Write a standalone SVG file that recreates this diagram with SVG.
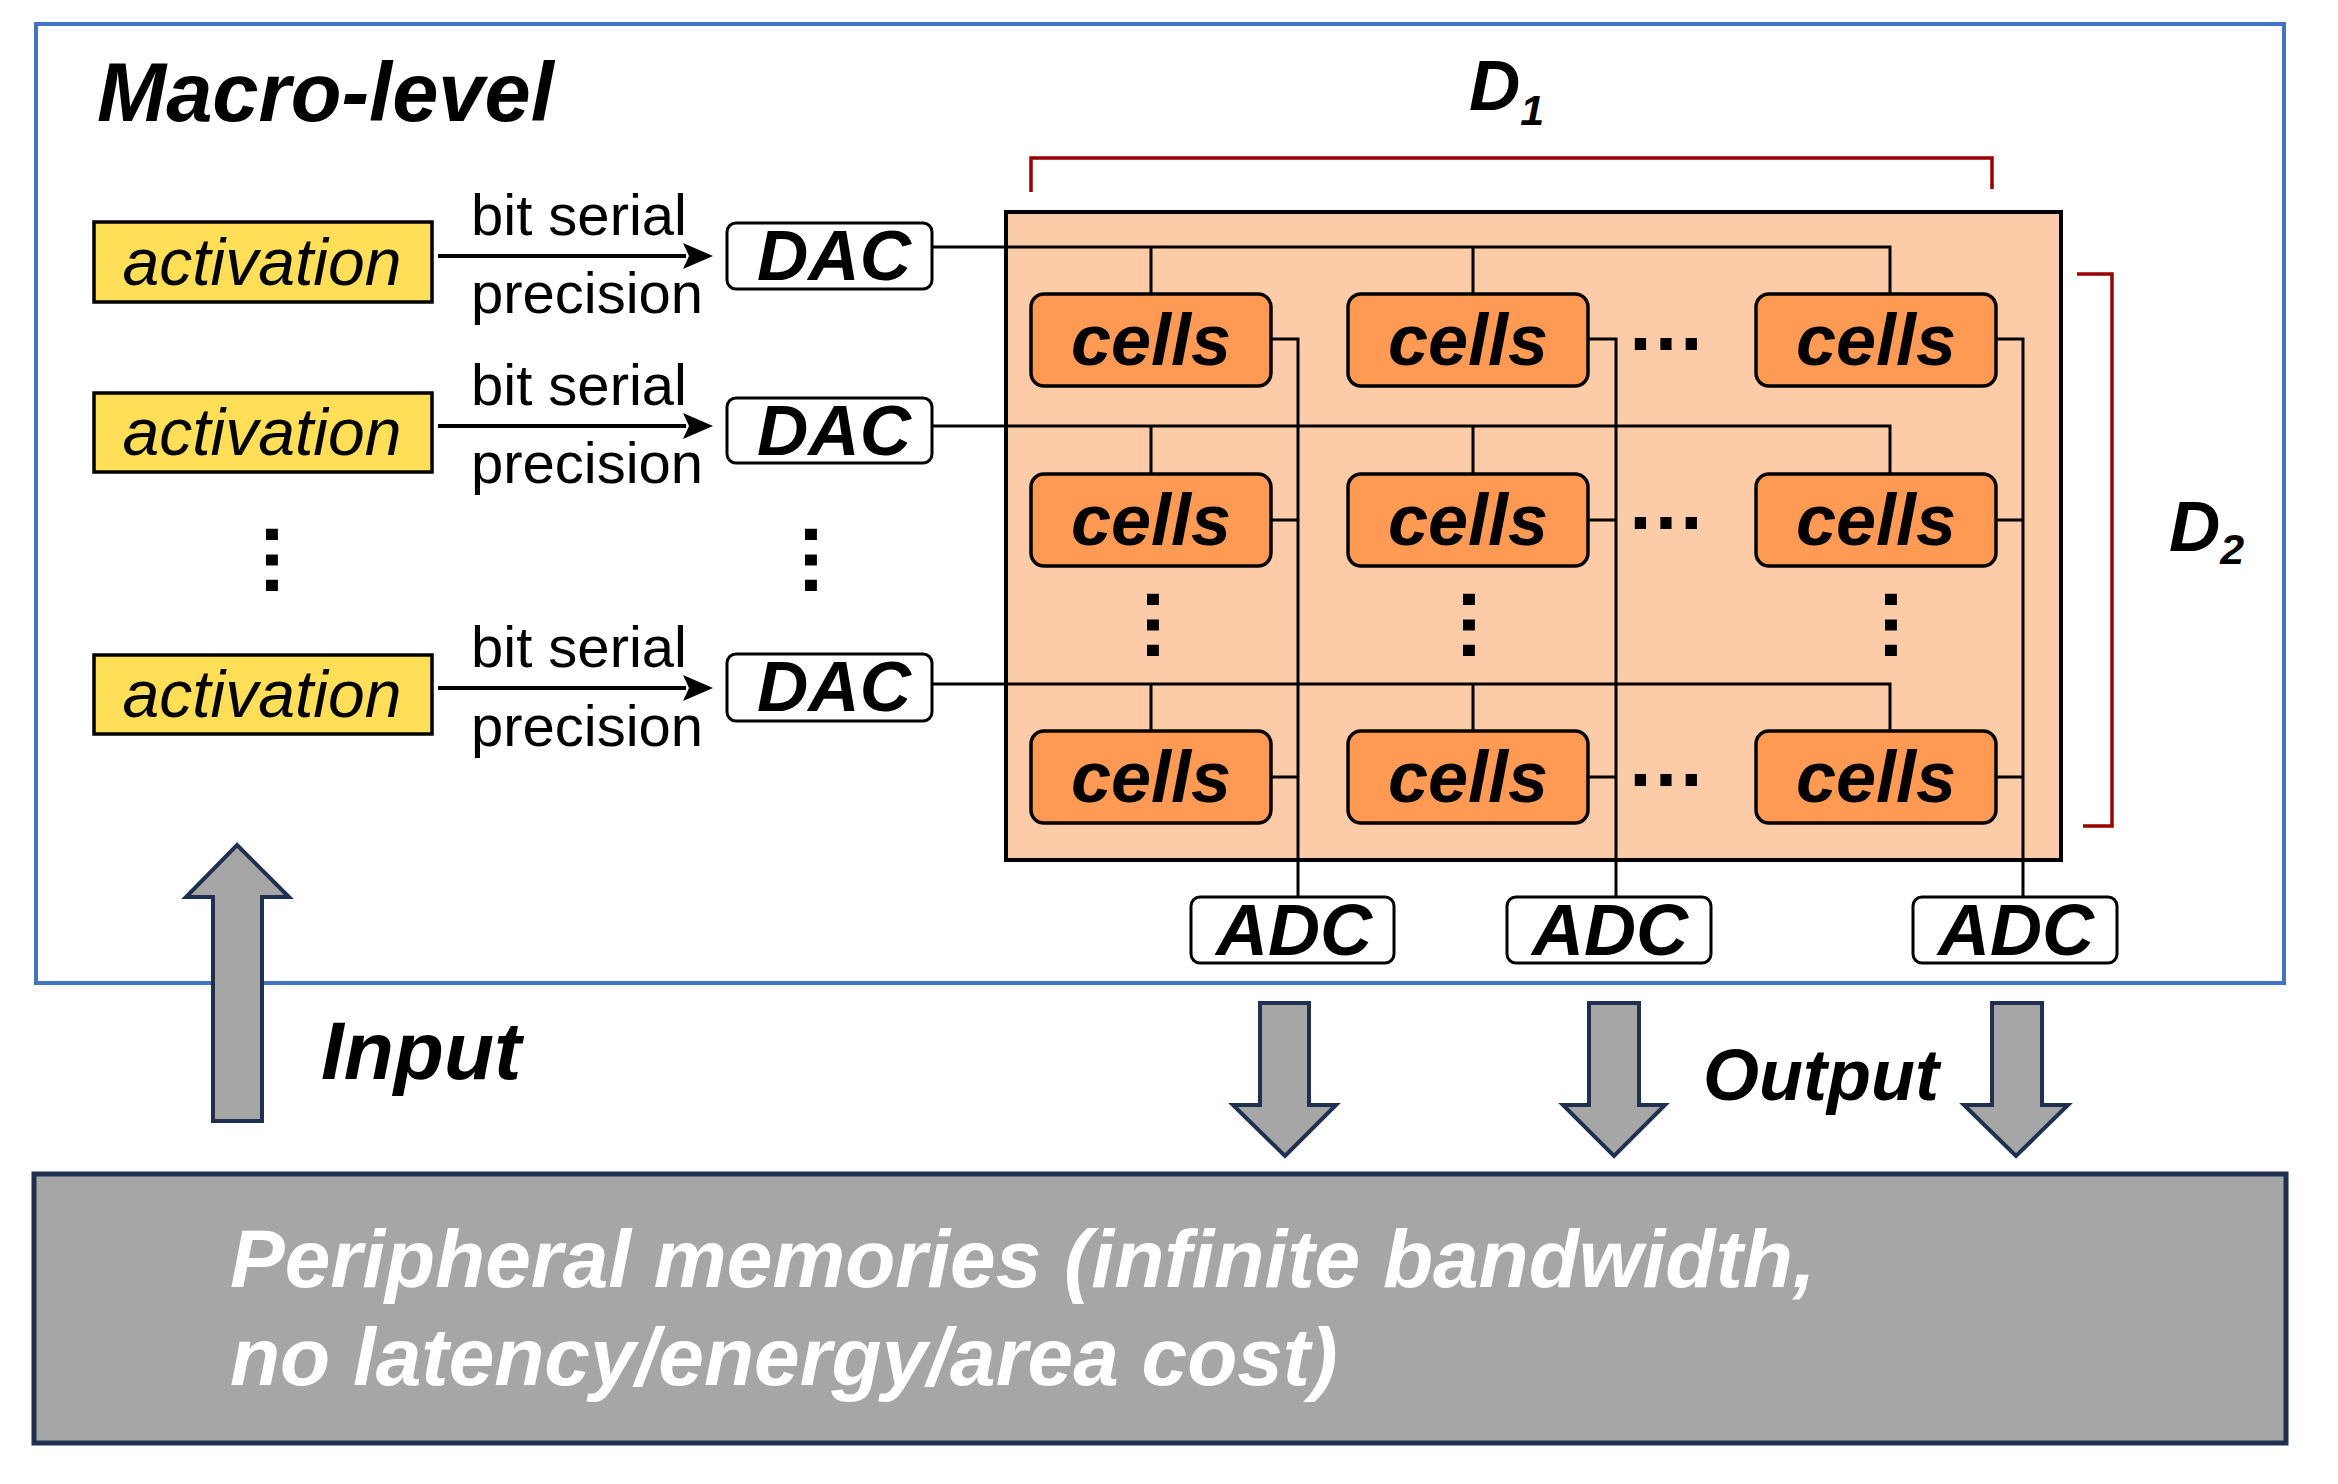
<svg xmlns="http://www.w3.org/2000/svg" width="2338" height="1484" viewBox="0 0 2338 1484">
<defs>
<style>
.bi{font-family:"Liberation Sans",Arial,sans-serif;font-weight:bold;font-style:italic;}
.it{font-family:"Liberation Sans",Arial,sans-serif;font-style:italic;}
.rg{font-family:"Liberation Sans",Arial,sans-serif;}
.act{fill:#FFDF57;stroke:#000;stroke-width:3.5;}
.box{fill:#fff;stroke:#000;stroke-width:3;}
.cell{fill:#FF9A55;stroke:#000;stroke-width:3.5;}
.wire{fill:none;stroke:#000;stroke-width:3;}
.brk{fill:none;stroke:#990000;stroke-width:3.5;}
.big{fill:#A6A6A6;stroke:#1F3050;stroke-width:4;}
.cellt{font-size:72px;text-anchor:middle;}
.dact{font-size:71px;text-anchor:middle;}
.lab{font-size:58px;}
.dots{font-family:"Liberation Sans",Arial,sans-serif;font-weight:bold;font-size:80px;text-anchor:middle;}
</style>
</defs>
<rect width="2338" height="1484" fill="#fff"/>

<g id="macro">
<rect x="36" y="24" width="2248" height="959" fill="none" stroke="#4472C4" stroke-width="4"/>
<text class="bi" x="97" y="121" font-size="83">Macro-level</text>
</g>

<g id="array">
<rect x="1006" y="212" width="1055" height="648" fill="#FCCBA8" stroke="#000" stroke-width="4"/>
</g>

<g id="connectors">
<g fill="none" stroke="#000" stroke-width="4">
<line x1="438" y1="256" x2="686" y2="256"/>
<line x1="438" y1="426" x2="686" y2="426"/>
<line x1="438" y1="688" x2="686" y2="688"/>
</g>
<g fill="#000">
<path d="M713,256 L683,243 L689,256 L683,269 Z"/>
<path d="M713,426 L683,413 L689,426 L683,439 Z"/>
<path d="M713,688 L683,675 L689,688 L683,701 Z"/>
</g>
<path class="wire" d="M932,247 H1890 V294 M1151,247 V294 M1473,247 V294"/>
<path class="wire" d="M932,426 H1890 V474 M1151,426 V474 M1473,426 V474"/>
<path class="wire" d="M932,684 H1890 V731 M1151,684 V731 M1473,684 V731"/>
<path class="wire" d="M1271,339 H1298 V897 M1271,520 H1298 M1271,777 H1298"/>
<path class="wire" d="M1588,339 H1616 V897 M1588,520 H1616 M1588,777 H1616"/>
<path class="wire" d="M1996,339 H2023 V897 M1996,520 H2023 M1996,777 H2023"/>
<path class="brk" d="M1031,192 V158 H1992 V189"/>
<path class="brk" d="M2077,274 H2112 V826 H2083"/>
</g>

<g id="labels">
<text class="rg lab" x="471" y="235">bit serial</text>
<text class="rg lab" x="471" y="313">precision</text>
<text class="rg lab" x="471" y="405">bit serial</text>
<text class="rg lab" x="471" y="483">precision</text>
<text class="rg lab" x="471" y="667">bit serial</text>
<text class="rg lab" x="471" y="746">precision</text>
<text class="bi" x="1469" y="110" font-size="71">D<tspan font-size="43" dy="15">1</tspan></text>
<text class="bi" x="2169" y="551" font-size="71">D<tspan font-size="43" dy="13">2</tspan></text>
</g>

<g id="activation-1"><rect class="act" x="94" y="222" width="338" height="80"/><text class="it" x="262" y="285" font-size="66" text-anchor="middle">activation</text></g>
<g id="activation-2"><rect class="act" x="94" y="393" width="338" height="79"/><text class="it" x="262" y="455" font-size="66" text-anchor="middle">activation</text></g>
<g id="activation-3"><rect class="act" x="94" y="655" width="338" height="79"/><text class="it" x="262" y="717" font-size="66" text-anchor="middle">activation</text></g>

<g id="dac-1"><rect class="box" x="727" y="223" width="205" height="66" rx="9"/><text class="bi dact" x="834" y="280">DAC</text></g>
<g id="dac-2"><rect class="box" x="727" y="398" width="205" height="65" rx="9"/><text class="bi dact" x="834" y="455">DAC</text></g>
<g id="dac-3"><rect class="box" x="727" y="654" width="205" height="67" rx="9"/><text class="bi dact" x="834" y="711">DAC</text></g>

<g id="vdots-left">
<text class="dots" transform="rotate(90 271 560)" x="271" y="565">…</text>
<text class="dots" transform="rotate(90 810 560)" x="810" y="565">…</text>
</g>

<g id="cells-r1">
<rect class="cell" x="1031" y="294" width="240" height="92" rx="13"/><text class="bi cellt" x="1151" y="365">cells</text>
<rect class="cell" x="1348" y="294" width="240" height="92" rx="13"/><text class="bi cellt" x="1468" y="365">cells</text>
<rect class="cell" x="1756" y="294" width="240" height="92" rx="13"/><text class="bi cellt" x="1876" y="365">cells</text>
<text class="dots" x="1666" y="350">…</text>
</g>
<g id="cells-r2">
<rect class="cell" x="1031" y="474" width="240" height="92" rx="13"/><text class="bi cellt" x="1151" y="545">cells</text>
<rect class="cell" x="1348" y="474" width="240" height="92" rx="13"/><text class="bi cellt" x="1468" y="545">cells</text>
<rect class="cell" x="1756" y="474" width="240" height="92" rx="13"/><text class="bi cellt" x="1876" y="545">cells</text>
<text class="dots" x="1666" y="529">…</text>
</g>
<g id="vdots-grid">
<text class="dots" transform="rotate(90 1152 625)" x="1152" y="630">…</text>
<text class="dots" transform="rotate(90 1468 625)" x="1468" y="630">…</text>
<text class="dots" transform="rotate(90 1890 625)" x="1890" y="630">…</text>
</g>
<g id="cells-r3">
<rect class="cell" x="1031" y="731" width="240" height="92" rx="13"/><text class="bi cellt" x="1151" y="802">cells</text>
<rect class="cell" x="1348" y="731" width="240" height="92" rx="13"/><text class="bi cellt" x="1468" y="802">cells</text>
<rect class="cell" x="1756" y="731" width="240" height="92" rx="13"/><text class="bi cellt" x="1876" y="802">cells</text>
<text class="dots" x="1666" y="786">…</text>
</g>

<g id="adc-1"><rect class="box" x="1191" y="897" width="203" height="66" rx="9"/><text class="bi cellt" x="1294" y="955">ADC</text></g>
<g id="adc-2"><rect class="box" x="1507" y="897" width="204" height="66" rx="9"/><text class="bi cellt" x="1610" y="955">ADC</text></g>
<g id="adc-3"><rect class="box" x="1913" y="897" width="204" height="66" rx="9"/><text class="bi cellt" x="2016" y="955">ADC</text></g>

<g id="input">
<path class="big" d="M237,845 L289,897 L262,897 L262,1121 L213,1121 L213,897 L186,897 Z"/>
<text class="bi" x="321" y="1079" font-size="82">Input</text>
</g>

<g id="output">
<path class="big" d="M1260,1003 H1309 V1105 H1336 L1285,1156 L1233,1105 H1260 Z"/>
<path class="big" d="M1589,1003 H1639 V1105 H1665 L1614,1156 L1563,1105 H1589 Z"/>
<path class="big" d="M1992,1003 H2042 V1105 H2068 L2016,1156 L1964,1105 H1992 Z"/>
<text class="bi" x="1703" y="1100" font-size="72">Output</text>
</g>

<g id="peripheral">
<rect x="34" y="1174" width="2252" height="269" fill="#A6A6A6" stroke="#1F3050" stroke-width="5"/>
<text class="bi" x="230" y="1287" font-size="82" fill="#fff">Peripheral memories (infinite bandwidth,</text>
<text class="bi" x="230" y="1385" font-size="82" fill="#fff">no latency/energy/area cost)</text>
</g>
</svg>
